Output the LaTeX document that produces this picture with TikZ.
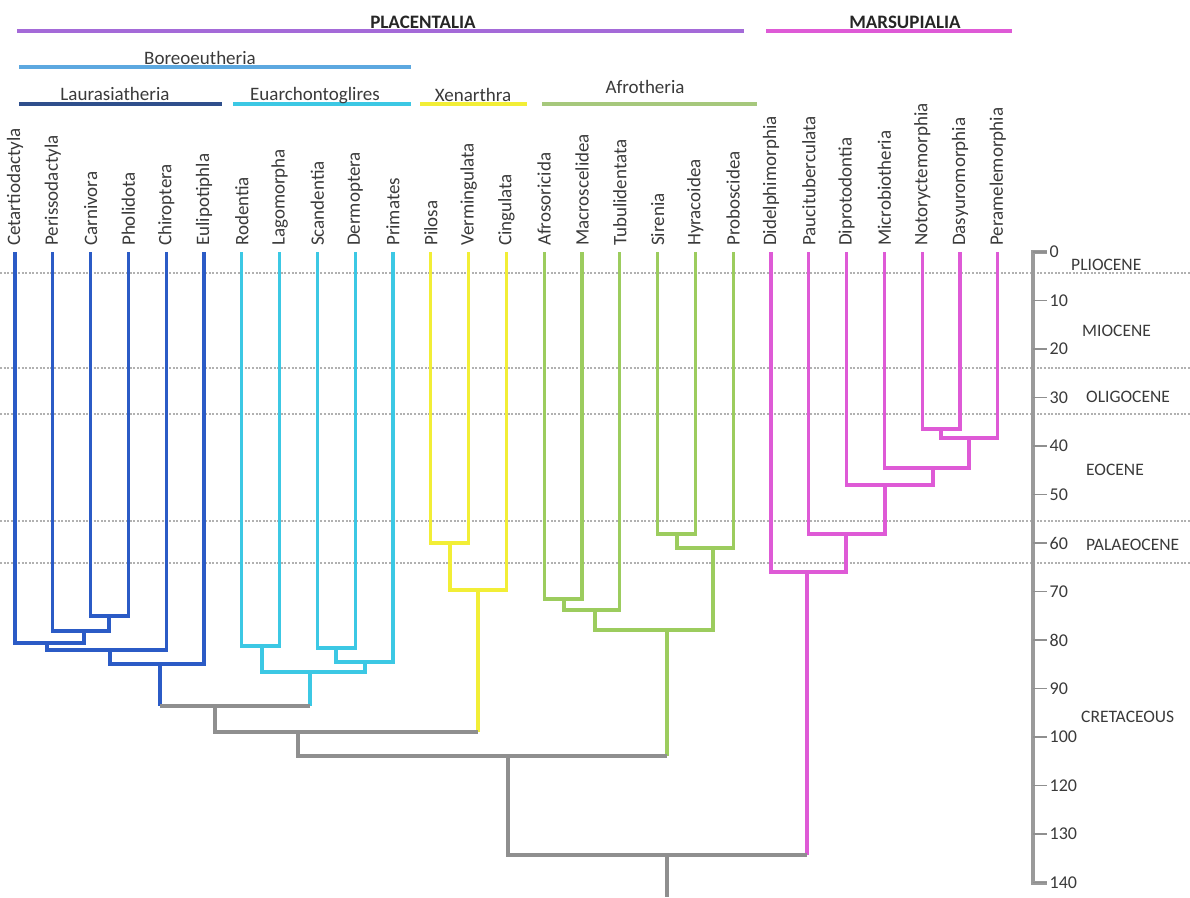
\documentclass[tikz,border=0pt]{standalone}
\usepackage{fontspec}
\setmainfont{Carlito}
\usepackage{tikz}
\definecolor{laurblue}{HTML}{2B5BC6}
\definecolor{laurbar}{HTML}{2F4F8C}
\definecolor{euarcyan}{HTML}{3CC8E4}
\definecolor{xenyellow}{HTML}{F2EE36}
\definecolor{afrogreen}{HTML}{9CCC5E}
\definecolor{afrobar}{HTML}{A6C87C}
\definecolor{marsmag}{HTML}{DE5AD6}
\definecolor{placpurple}{HTML}{A46AD8}
\definecolor{boreoblue}{HTML}{5CA8E0}
\definecolor{stemgray}{HTML}{8F8F8F}
\definecolor{labgray}{HTML}{3A3A3A}

\begin{document}
\begin{tikzpicture}[x=1pt,y=-1pt,
  br/.style={line width=3.2pt},
  lau/.style={br,color=laurblue},
  eua/.style={br,color=euarcyan},
  xen/.style={br,color=xenyellow},
  afr/.style={br,color=afrogreen},
  mar/.style={br,color=marsmag},
  gry/.style={br,color=stemgray},
  bar/.style={line width=4pt},
  epochline/.style={color=stemgray!70,line width=1.3pt,dash pattern=on 2pt off 1.6pt},
  leaf/.style={rotate=90,anchor=west,inner sep=0pt,text=labgray,font=\fontsize{19}{19}\selectfont},
  hdr/.style={anchor=base,inner sep=0pt,text=labgray,font=\fontsize{19}{19}\selectfont},
  hdrb/.style={hdr,text=black!85,font=\fontsize{19}{19}\selectfont\bfseries},
  tick/.style={anchor=west,inner sep=2pt,text=labgray,font=\fontsize{18}{18}\selectfont},
  epoch/.style={anchor=west,inner sep=0pt,text=labgray,font=\fontsize{17.5}{17.5}\selectfont}]
\useasboundingbox (0,0) rectangle (1190,897);

\foreach \y in {273,368,414,521,563}
  \draw[epochline] (0,\y) -- (1190,\y);

% clade bars
\draw[bar,color=placpurple] (17,31) -- (744,31);
\node[hdrb] (plac) at (423,28) {PLACENTALIA};
\draw[bar,color=marsmag] (766,31) -- (1012,31);
\node[hdrb] (mars) at (905,28) {MARSUPIALIA};
\draw[bar,color=boreoblue] (19,67) -- (411,67);
\node[hdr] (boreo) at (200,64) {Boreoeutheria};
\draw[bar,color=laurbar] (19,104) -- (222,104);
\node[hdr] (laur) at (115,100) {Laurasiatheria};
\draw[bar,color=euarcyan] (233,104) -- (411,104);
\node[hdr] (euar) at (315,100) {Euarchontoglires};
\draw[bar,color=xenyellow] (420,104) -- (527,104);
\node[hdr] (xena) at (473,101) {Xenarthra};
\draw[bar,color=afrobar] (542,104) -- (757,104);
\node[hdr] (afro) at (645,93) {Afrotheria};

\foreach \name [count=\i from 0] in {Cetartiodactyla,Perissodactyla,Carnivora,
    Pholidota,Chiroptera,Eulipotiphla,Rodentia,Lagomorpha,Scandentia,Dermoptera,
    Primates,Pilosa,Vermingulata,Cingulata,Afrosoricida,Macroscelidea,Tubulidentata,
    Sirenia,Hyracoidea,Proboscidea,Didelphimorphia,Paucituberculata,Diprotodontia,
    Microbiotheria,Notoryctemorphia,Dasyuromorphia,Peramelemorphia}
  {\coordinate (t\i) at ({15+37.8*\i},252);
   \node[leaf] (L\i) at ({15+37.8*\i},246) {\name};}

\coordinate (n1) at (109,616);
\coordinate (n2) at (84,631);
\coordinate (n3) at (47,643);
\coordinate (n4) at (110,650);
\coordinate (n5) at (160,664);
\coordinate (n6) at (262,646);
\coordinate (n7) at (336,648);
\coordinate (n8) at (365,662);
\coordinate (n9) at (310,672);
\coordinate (bo) at (215,706);
\coordinate (x1) at (450,543);
\coordinate (x2) at (478,590);
\coordinate (p1) at (298,732);
\coordinate (a1) at (564,599);
\coordinate (a2) at (595,610);
\coordinate (a3) at (677,534);
\coordinate (a4) at (713,548);
\coordinate (a5) at (667,630);
\coordinate (p2) at (508,756);
\coordinate (m1) at (941,429);
\coordinate (m2) at (969,438);
\coordinate (m3) at (933,468);
\coordinate (m4) at (885,485);
\coordinate (m5) at (846,534);
\coordinate (m6) at (807,572);
\coordinate (root) at (667,855);
\coordinate (base) at (667,897);

\draw[lau] (t2) |- (n1) -| (t3);
\draw[lau] (t1) |- (n2) -| (n1);
\draw[lau] (t0) |- (n3) -| (n2);
\draw[lau] (n3) |- (n4) -| (t4);
\draw[lau] (n4) |- (n5) -| (t5);
\draw[eua] (t6) |- (n6) -| (t7);
\draw[eua] (t8) |- (n7) -| (t9);
\draw[eua] (n7) |- (n8) -| (t10);
\draw[eua] (n6) |- (n9) -| (n8);
\draw[lau] (n5) -- (n5 |- bo);
\draw[eua] (n9) -- (n9 |- bo);
\draw[gry] (n5 |- bo) -- (n9 |- bo);

\draw[xen] (t11) |- (x1) -| (t12);
\draw[xen] (x1) |- (x2) -| (t13);
\draw[xen] (x2) -- (x2 |- p1);
\draw[gry] (bo) |- (p1) -- (x2 |- p1);

\draw[afr] (t14) |- (a1) -| (t15);
\draw[afr] (a1) |- (a2) -| (t16);
\draw[afr] (t17) |- (a3) -| (t18);
\draw[afr] (a3) |- (a4) -| (t19);
\draw[afr] (a2) |- (a5) -| (a4);
\draw[afr] (a5) -- (a5 |- p2);
\draw[gry] (p1) |- (p2) -- (a5 |- p2);

\draw[mar] (t24) |- (m1) -| (t25);
\draw[mar] (m1) |- (m2) -| (t26);
\draw[mar] (t23) |- (m3) -| (m2);
\draw[mar] (t22) |- (m4) -| (m3);
\draw[mar] (t21) |- (m5) -| (m4);
\draw[mar] (t20) |- (m6) -| (m5);
\draw[mar] (m6) -- (m6 |- root);
\draw[gry] (p2) |- (root) -- (m6 |- root);
\draw[gry] (root) -- (base);

% time axis
\draw[gry,color=stemgray!90] (1047,252) -- (1033,252) -- (1033,883) -- (1047,883);
\foreach \v [count=\i from 0] in {0,10,20,30,40,50,60,70,80,90,100,120,130,140}
  \draw[line width=1.4pt,color=stemgray] (1033,{252+48.5*\i}) -- ++(14,0)
    node[tick] (k\i) {\v};
\node[epoch] (plio) at (1071,265) {PLIOCENE};
\node[epoch] (mio) at (1082,331) {MIOCENE};
\node[epoch] (oli) at (1086,397) {OLIGOCENE};
\node[epoch] (eoc) at (1086,470) {EOCENE};
\node[epoch] (pal) at (1086,545) {PALAEOCENE};
\node[epoch] (cre) at (1081,717) {CRETACEOUS};
\end{tikzpicture}
\end{document}
